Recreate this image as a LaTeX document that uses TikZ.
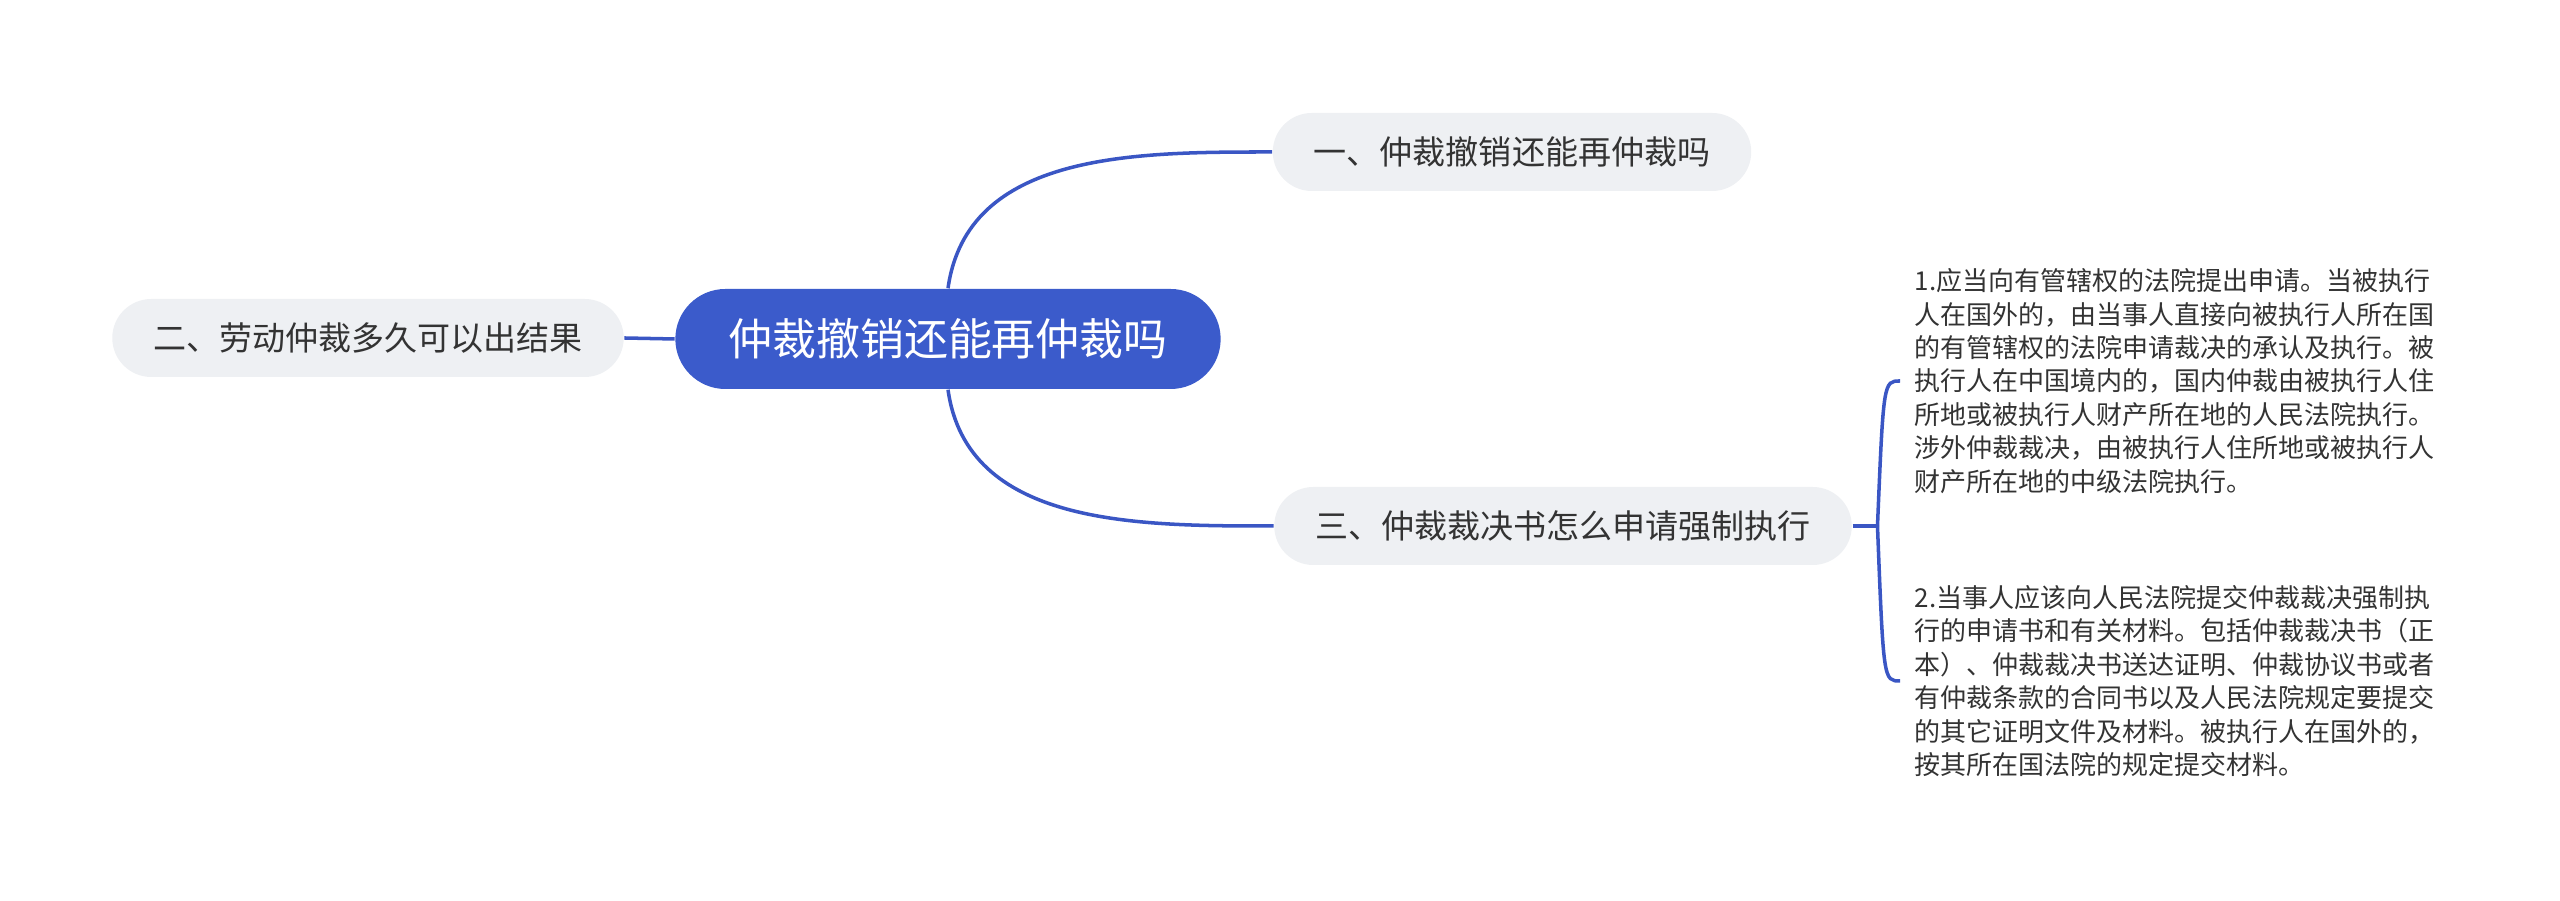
\documentclass[tikz,border=0pt]{standalone}
\usepackage{fontspec}
\setmainfont{Noto Sans CJK SC}
\usepackage{tikz}
\usepackage{xcolor}
\definecolor{bleu}{HTML}{3B5BCB}
\definecolor{trait}{HTML}{3A56C4}
\definecolor{gris}{HTML}{EEF0F3}
\definecolor{encre}{HTML}{333333}

\begin{document}
\begin{tikzpicture}
\tikzstyle{racine}=[rectangle,rounded corners=0.5cm,fill=bleu,text=white,font=\fontsize{12.5}{14}\selectfont,minimum height=1cm,inner xsep=0.53cm]
\tikzstyle{sujet}=[rectangle,rounded corners=0.39cm,fill=gris,text=encre,font=\fontsize{9.4}{11}\selectfont,minimum height=0.78cm,inner xsep=0.41cm]
\tikzstyle{texte}=[anchor=west,align=left,text=encre,font=\fontsize{7.4}{9.5}\selectfont,inner xsep=0.14cm,inner ysep=0pt]
\tikzstyle{branche}=[draw=trait,line width=1pt]
	\useasboundingbox (0,0) rectangle (25.6,9.01);
	\node[racine] (R) at (9.48,5.62) {仲裁撤销还能再仲裁吗};
	\node[sujet] (A) at (15.12,7.49) {一、仲裁撤销还能再仲裁吗};
	\node[sujet] (B) at (3.68,5.63) {二、劳动仲裁多久可以出结果};
	\node[sujet] (C) at (15.63,3.75) {三、仲裁裁决书怎么申请强制执行};
\par
	\node[texte] (T1) at (19.0,5.2) {1.应当向有管辖权的法院提出申请。当被执行\\人在国外的，由当事人直接向被执行人所在国\\的有管辖权的法院申请裁决的承认及执行。被\\执行人在中国境内的，国内仲裁由被执行人住\\所地或被执行人财产所在地的人民法院执行。\\涉外仲裁裁决，由被执行人住所地或被执行人\\财产所在地的中级法院执行。};
	\node[texte] (T2) at (19.0,2.2) {2.当事人应该向人民法院提交仲裁裁决强制执\\行的申请书和有关材料。包括仲裁裁决书（正\\本）、仲裁裁决书送达证明、仲裁协议书或者\\有仲裁条款的合同书以及人民法院规定要提交\\的其它证明文件及材料。被执行人在国外的，\\按其所在国法院的规定提交材料。};
\par
	\draw[branche] (R.north) to[out=82,in=180] (A.west);
	\draw[branche] (R.south) to[out=-82,in=180] (C.west);
	\draw[branche] (B.east) -- (R.west);
	\draw[branche] (C.east) -- ++(0.25,0) coordinate (J);
	\draw[branche] (J) .. controls ([xshift=0.06cm]J |- T1.west) .. (T1.west);
	\draw[branche] (J) .. controls ([xshift=0.06cm]J |- T2.west) .. (T2.west);
\end{tikzpicture}
\end{document}
